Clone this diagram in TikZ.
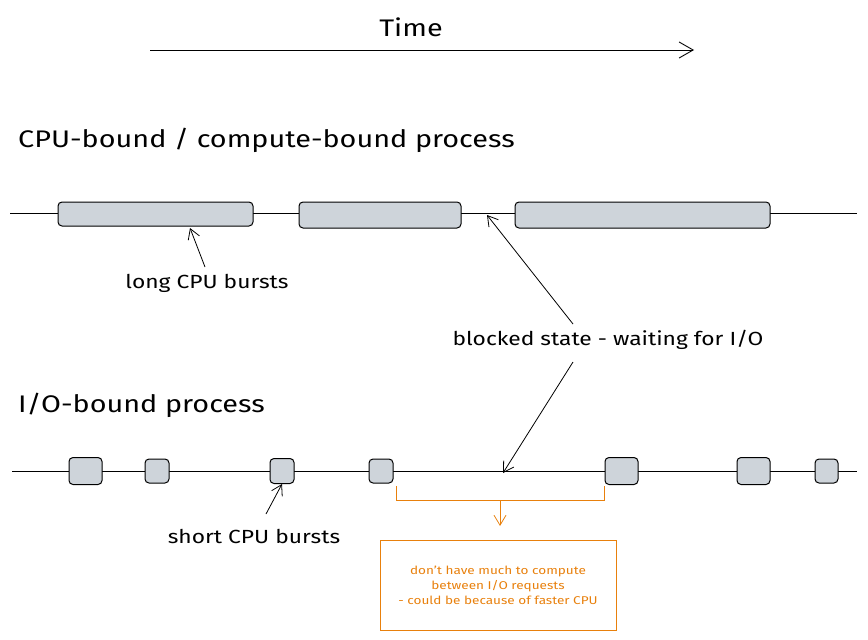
\documentclass[tikz,border=0pt]{standalone}
\usepackage{fontspec}
\setmainfont{Fira Sans}[FakeStretch=1.2]
\usetikzlibrary{arrows.meta}
\usetikzlibrary{positioning}

\definecolor{burstgray}{HTML}{CED4DA}
\definecolor{noteorange}{HTML}{E8800C}

\tikzset{
	burst/.style = {draw=black, fill=burstgray, rounded corners=4pt, line width=1pt, inner sep=0pt},
	ptr/.style = {-{Straight Barb[length=10pt,width=12pt]}, line width=0.8pt},
	lbl/.style = {font=\fontsize{19}{22}\selectfont, inner sep=1pt},
	heading/.style = {font=\fontsize{24}{30}\selectfont, anchor=west, inner sep=0pt},
}

\begin{document}
\begin{tikzpicture}[x=1pt, y=-1pt]
		\useasboundingbox (0,0) rectangle (868,640);
		% time axis
		\node[font=\fontsize{24}{28}\selectfont] (time) at (411,27) {Time};
		\coordinate (t0) at (150,50);
		\coordinate (t1) at (694,50);
		\draw[-{Straight Barb[length=14pt,width=16pt]}, line width=0.9pt] (t0) -- (t1);

		% compute-bound
		\node[heading] (cpuhead) at (18,140) {CPU-bound / compute-bound process};
		\coordinate (c0) at (10,213);
		\coordinate (c1) at (857,213);
		\draw[line width=1pt] (c0) -- (c1);
		\node[burst, minimum width=195pt, minimum height=24pt] (cb1) at (155.5,214) {};
		\node[burst, minimum width=162pt, minimum height=26pt] (cb2) at (380,215) {};
		\node[burst, minimum width=255pt, minimum height=26pt] (cb3) at (642.5,215) {};

		\node[lbl] (longlbl) at (207,283) {long CPU bursts};
		\coordinate (longtip) at (190,228);
		\draw[ptr] (205,267) -- (longtip);

		\node[lbl] (blocked) at (608,340) {blocked state - waiting for I/O};
		\coordinate (blocktip1) at (487,215);
		\coordinate (blocktip2) at (503,473);
		\draw[ptr] (573,324) -- (blocktip1);
		\draw[ptr] (573,362) -- (blocktip2);

		% io-bound
		\node[heading] (iohead) at (18,405) {I/O-bound process};
		\coordinate (i0) at (12,471);
		\coordinate (i1) at (857,471);
		\draw[line width=1pt] (i0) -- (i1);
		\foreach \n/\cx/\w/\h in {1/85.5/33/27, 2/157/24/24, 3/282/24/25, 4/381/24/24, 5/621.5/33/27, 6/753.5/33/27, 7/826.5/23/24}
		{
			\node[burst, minimum width=\w pt, minimum height=\h pt] (ib\n) at (\cx,471) {};
		}

		\node[lbl] (shortlbl) at (254,536) {short CPU bursts};
		\draw[ptr] (266,514) -- (ib3.south);

		% note
		\draw[noteorange, line width=1pt] (396,486) -- (396,500) -- (604,500) -- (604,486);
		\coordinate (brace) at (500,500);
		\node[draw=noteorange, line width=1pt, minimum width=236pt, minimum height=90pt, text=noteorange,
			align=center, font=\fontsize{11.3}{15}\selectfont] (note) at (498,585)
			{don't have much to compute\\between I/O requests\\- could be because of faster CPU};
		\draw[noteorange, ptr] (brace) -- (500,526);
	\end{tikzpicture}
\end{document}
